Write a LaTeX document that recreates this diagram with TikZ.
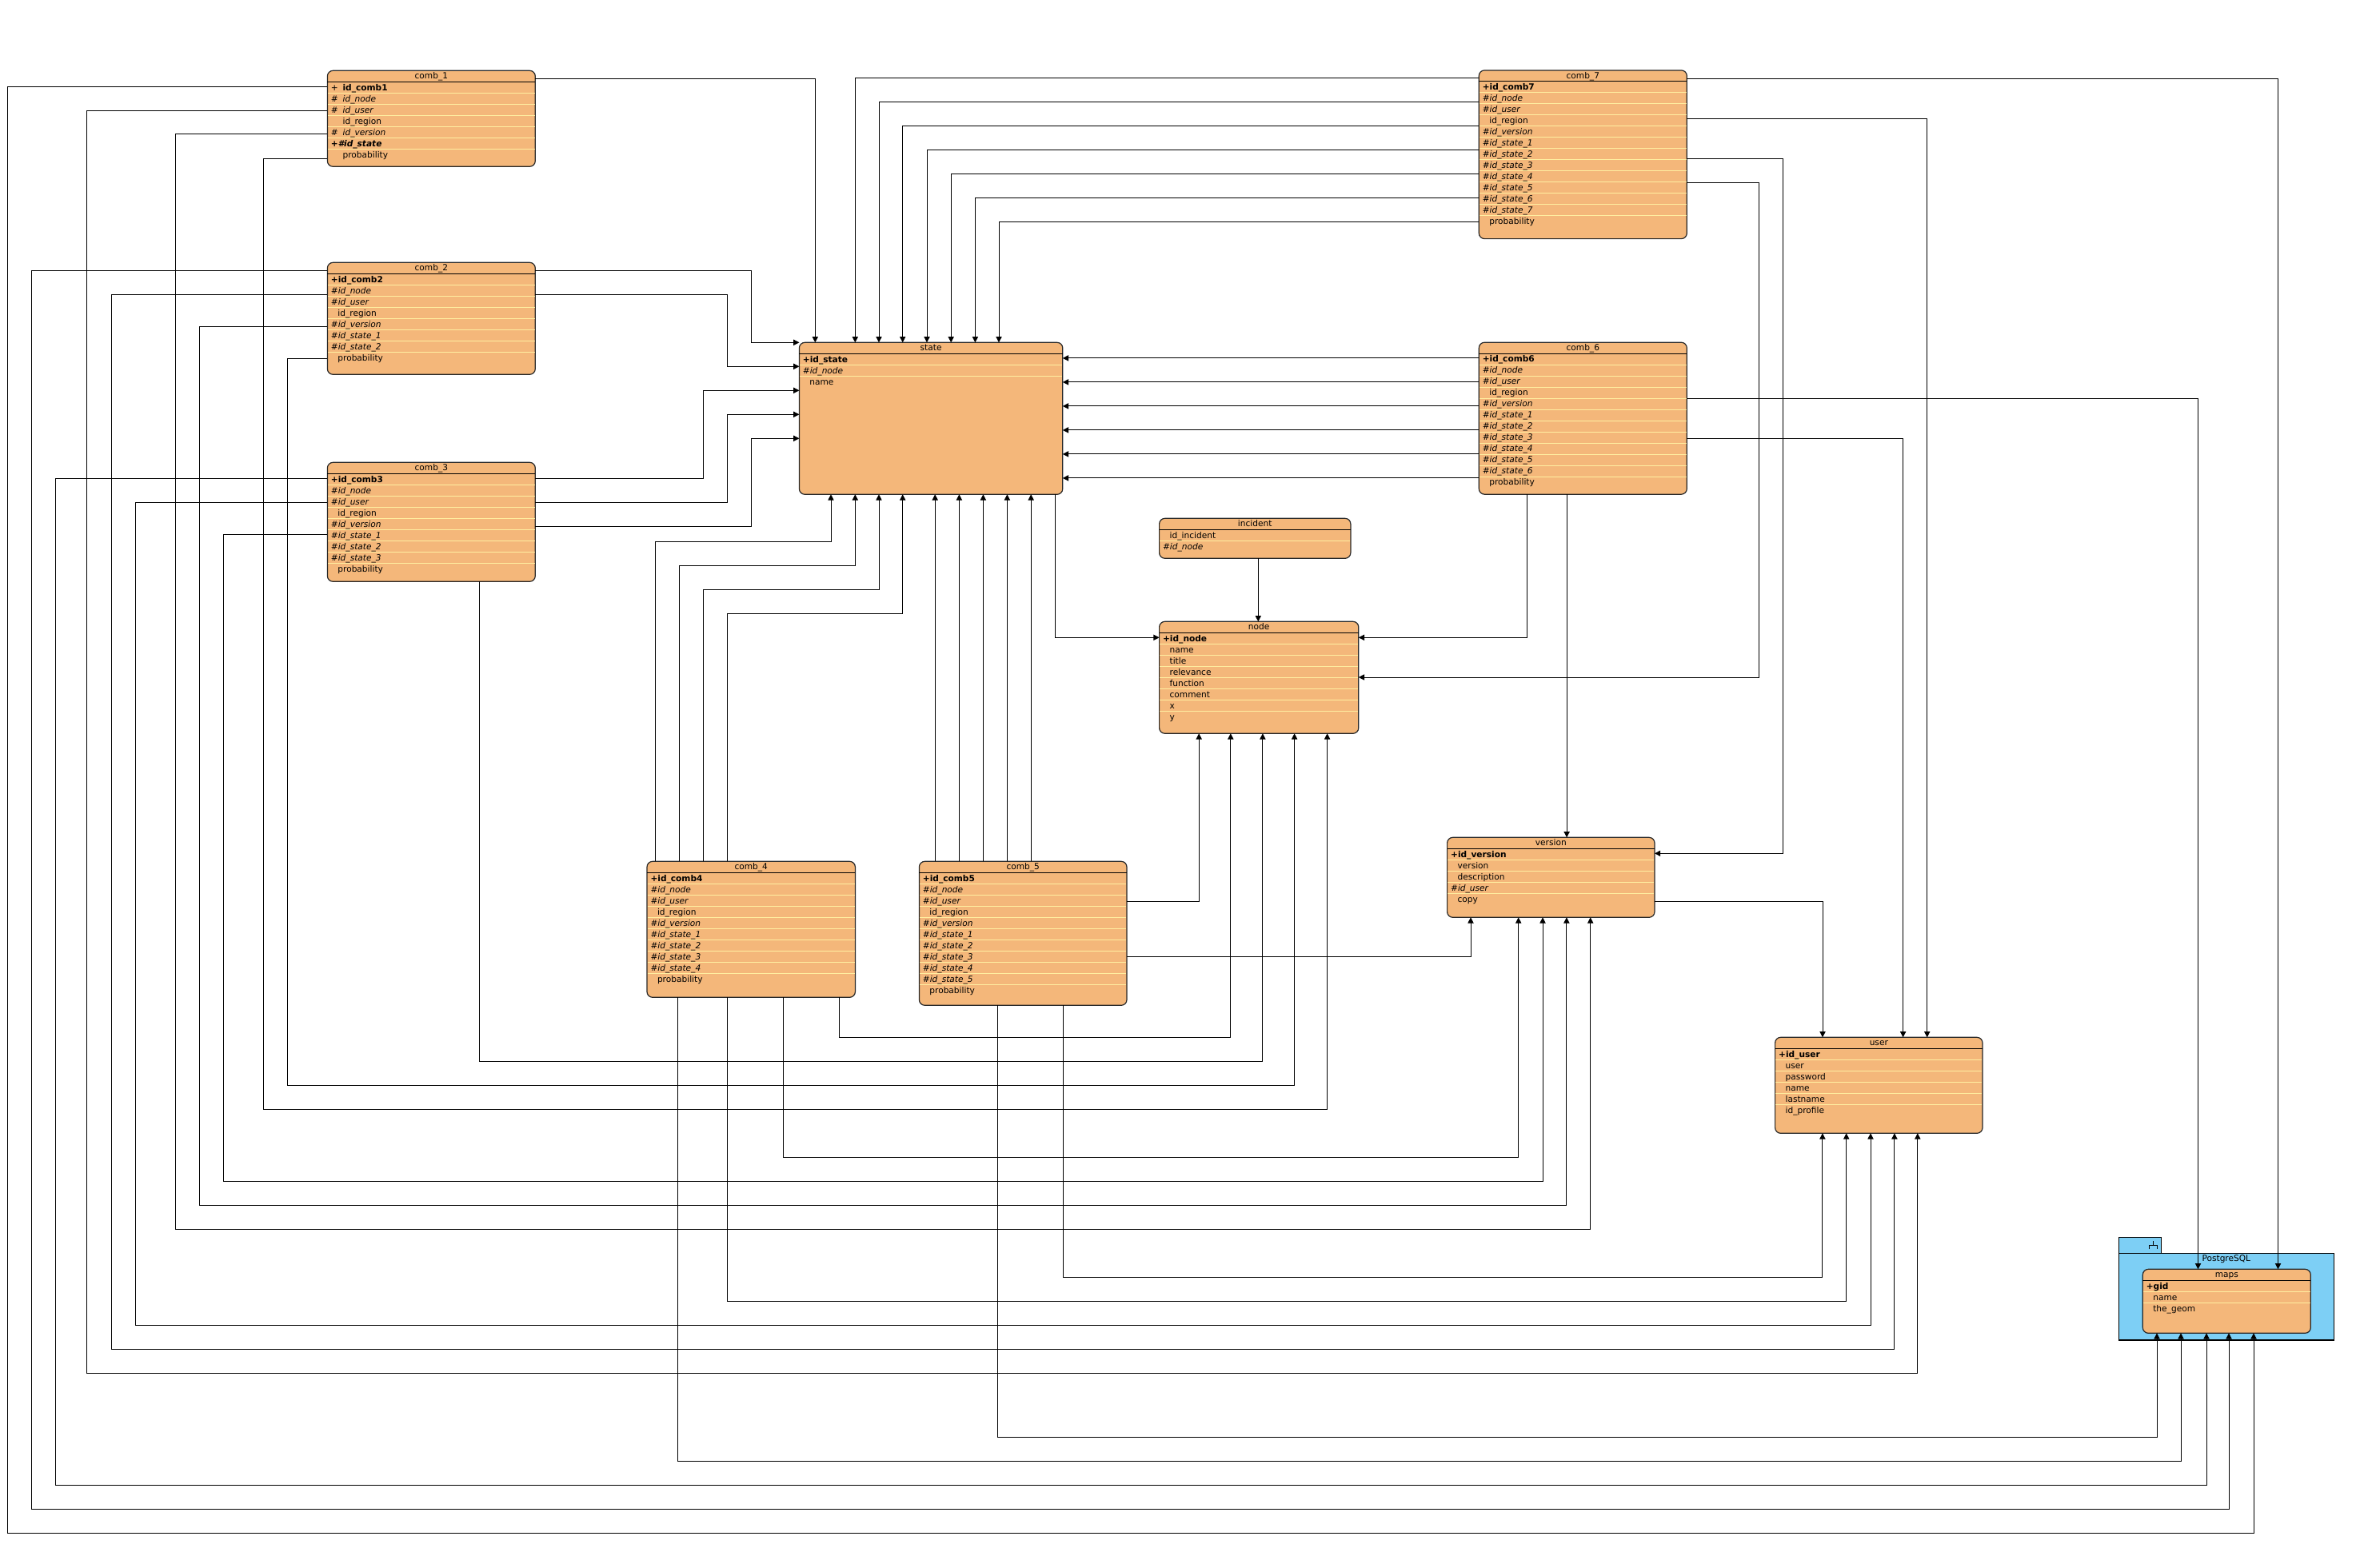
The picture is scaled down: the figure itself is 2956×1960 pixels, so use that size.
\documentclass[tikz,border=0pt]{standalone}
\usepackage{fontspec}
\setmainfont{DejaVu Sans}[BoldFont={DejaVu Sans Bold},ItalicFont={DejaVu Sans Oblique},BoldItalicFont={DejaVu Sans Bold Oblique}]
\usetikzlibrary{arrows.meta}
\definecolor{boxfill}{RGB}{244,183,122}
\definecolor{rowsep}{RGB}{255,238,160}
\definecolor{pkgfill}{RGB}{125,207,245}
\definecolor{frame}{RGB}{40,40,40}
\newcommand\erpk[1]{\textbf{+#1}}
\newcommand\erfk[1]{\textit{\#{}#1}}
\tikzset{
 ebox/.style={rectangle, draw=frame, fill=boxfill, line width=0.6pt, rounded corners=3.5pt, inner sep=0pt, outer sep=0pt, anchor=north west},
 pkg/.style={rectangle, draw=black, fill=pkgfill, line width=0.55pt, inner sep=0pt, outer sep=0pt, anchor=north west},
 hdr/.style={draw=black, line width=0.55pt},
 rsep/.style={draw=rowsep, line width=0.5pt},
 rowtxt/.style={inner sep=0pt, outer sep=0pt, anchor=base west, font=\fontsize{5.3pt}{6pt}\selectfont},
 ttltxt/.style={inner sep=0pt, outer sep=0pt, anchor=base, font=\fontsize{5.3pt}{6pt}\selectfont},
 conn/.style={draw=black, line width=0.5pt, -{Triangle[length=3.6pt,width=3.6pt]}},
 wire/.style={draw=black, line width=0.5pt},
}
\newcommand\erbox[7]{%
 \pgfmathsetmacro\erbw{(#4-#2)*0.5}%
 \pgfmathsetmacro\erbh{(#5-#3)*0.5}%
 \node[ebox, minimum width=\erbw pt, minimum height=\erbh pt] (#1) at (#2,#3) {};
 \foreach \k/\txt [count=\i] in {#7} {%
   \pgfmathsetmacro\ery{#3+14*\i}%
   \pgfmathsetmacro\erx{#2+4.5+8.5*\k}%
   \ifnum\i>1 \draw[rsep] (#2+0.8,\ery) -- (#4-0.8,\ery);\fi
   \node[rowtxt] (#1-r\i) at (\erx,\ery+10.7) {\txt};
 }
 \draw[hdr] (#2,#3+14) -- (#4,#3+14);
 \node[ttltxt] (#1-t) at ({(#2+#4)/2},#3+10.2) {#6};
}
\begin{document}
\begin{tikzpicture}[x=0.5pt,y=-0.5pt]
\useasboundingbox[fill=white] (0,0) rectangle (2956,1960);

% package
\node[pkg, minimum width=26.5pt, minimum height=10pt] (pgtab) at (2649.3,1547.3) {};
\node[pkg, minimum width=134.5pt, minimum height=54.35pt] (pg) at (2649.3,1567.3) {};
\draw[wire] (2687.3,1562.3) -- (2687.3,1557.3) -- (2697.7,1557.3) -- (2697.7,1562.3);
\draw[wire] (2692.5,1557.3) -- (2692.5,1552);
\node[ttltxt] (pglabel) at (2783.8,1577.8) {PostgreSQL};

% tables
\erbox{c1}{409.4}{88.3}{669.3}{208.3}{comb\_1}{0/{\makebox[7.35pt][l]{+}\textbf{id\_comb1}},0/{\makebox[7.35pt][l]{\itshape\#}\textit{id\_node}},0/{\makebox[7.35pt][l]{\itshape\#}\textit{id\_user}},0/{\hspace*{7.35pt}id\_region},0/{\makebox[7.35pt][l]{\itshape\#}\textit{id\_version}},0/{\textbf{\textit{+\#id\_state}}},0/{\hspace*{7.35pt}probability}}
\erbox{c2}{409.4}{328.3}{669.3}{468.3}{comb\_2}{0/\erpk{id\_comb2},0/\erfk{id\_node},0/\erfk{id\_user},1/id\_region,0/\erfk{id\_version},0/\erfk{id\_state\_1},0/\erfk{id\_state\_2},1/probability}
\erbox{c3}{409.4}{578.3}{669.3}{727.3}{comb\_3}{0/\erpk{id\_comb3},0/\erfk{id\_node},0/\erfk{id\_user},1/id\_region,0/\erfk{id\_version},0/\erfk{id\_state\_1},0/\erfk{id\_state\_2},0/\erfk{id\_state\_3},1/probability}
\erbox{state}{999.4}{428.3}{1328.8}{618.3}{state}{0/\erpk{id\_state},0/\erfk{id\_node},1/name}
\erbox{incident}{1449.6}{648.3}{1688.9}{698.3}{incident}{1/id\_incident,0/\erfk{id\_node}}
\erbox{nodetbl}{1449.6}{777.3}{1698.8}{917.3}{node}{0/\erpk{id\_node},1/name,1/title,1/relevance,1/function,1/comment,1/x,1/y}
\erbox{c7}{1849.3}{87.9}{2109.3}{298.6}{comb\_7}{0/\erpk{id\_comb7},0/\erfk{id\_node},0/\erfk{id\_user},1/id\_region,0/\erfk{id\_version},0/\erfk{id\_state\_1},0/\erfk{id\_state\_2},0/\erfk{id\_state\_3},0/\erfk{id\_state\_4},0/\erfk{id\_state\_5},0/\erfk{id\_state\_6},0/\erfk{id\_state\_7},1/probability}
\erbox{c6}{1849.3}{428.2}{2109.3}{618.2}{comb\_6}{0/\erpk{id\_comb6},0/\erfk{id\_node},0/\erfk{id\_user},1/id\_region,0/\erfk{id\_version},0/\erfk{id\_state\_1},0/\erfk{id\_state\_2},0/\erfk{id\_state\_3},0/\erfk{id\_state\_4},0/\erfk{id\_state\_5},0/\erfk{id\_state\_6},1/probability}
\erbox{c4}{809}{1077.3}{1069.4}{1247.3}{comb\_4}{0/\erpk{id\_comb4},0/\erfk{id\_node},0/\erfk{id\_user},1/id\_region,0/\erfk{id\_version},0/\erfk{id\_state\_1},0/\erfk{id\_state\_2},0/\erfk{id\_state\_3},0/\erfk{id\_state\_4},1/probability}
\erbox{c5}{1149.4}{1077.3}{1409}{1257.3}{comb\_5}{0/\erpk{id\_comb5},0/\erfk{id\_node},0/\erfk{id\_user},1/id\_region,0/\erfk{id\_version},0/\erfk{id\_state\_1},0/\erfk{id\_state\_2},0/\erfk{id\_state\_3},0/\erfk{id\_state\_4},0/\erfk{id\_state\_5},1/probability}
\erbox{version}{1809.6}{1047.3}{2069}{1147.3}{version}{0/\erpk{id\_version},1/version,1/description,0/\erfk{id\_user},1/copy}
\erbox{user}{2219.6}{1297.3}{2479}{1417.3}{user}{0/\erpk{id\_user},1/user,1/password,1/name,1/lastname,1/id\_profile}
\erbox{maps}{2679.3}{1587.3}{2889.3}{1667.3}{maps}{0/\erpk{gid},1/name,1/the\_geom}

% ---- connectors to state (top)
\draw[conn] (c1.east |- 0,98.3) -| (state.north -| 1019.3,0);
\draw[conn] (c7.west |- 0,97.9) -| (state.north -| 1069.3,0);
\draw[conn] (c7.west |- 0,127.9) -| (state.north -| 1099,0);
\draw[conn] (c7.west |- 0,157.9) -| (state.north -| 1128.7,0);
\draw[conn] (c7.west |- 0,187.9) -| (state.north -| 1159,0);
\draw[conn] (c7.west |- 0,217.9) -| (state.north -| 1189.2,0);
\draw[conn] (c7.west |- 0,247.9) -| (state.north -| 1219.4,0);
\draw[conn] (c7.west |- 0,277.9) -| (state.north -| 1249,0);
% state left
\draw[conn] (c2.east |- 0,338.3) -| (939.2,428.3) -- (state.west |- 0,428.3);
\draw[conn] (c2.east |- 0,368.3) -| (909.4,458.3) -- (state.west |- 0,458.3);
\draw[conn] (c3.east |- 0,598.3) -| (879.5,488.3) -- (state.west |- 0,488.3);
\draw[conn] (c3.east |- 0,628.3) -| (909.4,518.3) -- (state.west |- 0,518.3);
\draw[conn] (c3.east |- 0,658.3) -| (939.2,548.3) -- (state.west |- 0,548.3);
% state right
\foreach \yy in {447.9,477.9,507.9,537.9,567.9,597.9}
  \draw[conn] (c6.west |- 0,\yy) -- (state.east |- 0,\yy);
% state bottom
\draw[conn] (c4.north -| 819.2,0) |- (1039,677.7) -- (state.south -| 1039,0);
\draw[conn] (c4.north -| 849.4,0) |- (1069.3,707.7) -- (state.south -| 1069.3,0);
\draw[conn] (c4.north -| 879.6,0) |- (1099,737.3) -- (state.south -| 1099,0);
\draw[conn] (c4.north -| 909.4,0) |- (1128.7,767.3) -- (state.south -| 1128.7,0);
\foreach \xx in {1169.2,1199.4,1229.4,1259.4,1289.2}
  \draw[conn] (c5.north -| \xx,0) -- (state.south -| \xx,0);

% ---- node
\draw[conn] (state.south -| 1319,0) |- (nodetbl.west |- 0,797.3);
\draw[conn] (incident.south -| 1573.3,0) -- (nodetbl.north -| 1573.3,0);
\draw[conn] (c6.south -| 1909.3,0) |- (nodetbl.east |- 0,797.3);
\draw[conn] (c7.east |- 0,228.3) -| (2199,847) -- (nodetbl.east |- 0,847);
\draw[conn] (c5.east |- 0,1127.3) -| (nodetbl.south -| 1499.2,0);
\draw[conn] (c4.south -| 1049.4,0) |- (1538.8,1297.3) -- (nodetbl.south -| 1538.8,0);
\draw[conn] (c3.south -| 599.5,0) |- (1578.9,1327.3) -- (nodetbl.south -| 1578.9,0);
\draw[conn] (c2.west |- 0,448.3) -| (359.3,1357.3) -| (nodetbl.south -| 1618.6,0);
\draw[conn] (c1.west |- 0,198) -| (329.3,1387.3) -| (nodetbl.south -| 1659.6,0);

% ---- version
\draw[conn] (c6.south -| 1959.1,0) -- (version.north -| 1959.1,0);
\draw[conn] (c7.east |- 0,198.3) -| (2229.5,1067.3) -- (version.east |- 0,1067.3);
\draw[conn] (c5.east |- 0,1196.7) -| (version.south -| 1839,0);
\draw[conn] (c4.south -| 979.6,0) |- (1898.7,1447.3) -- (version.south -| 1898.7,0);
\draw[conn] (c3.west |- 0,668.3) -| (279.3,1477.3) -| (version.south -| 1929,0);
\draw[conn] (c2.west |- 0,408.3) -| (249.3,1507.3) -| (version.south -| 1958.9,0);
\draw[conn] (c1.west |- 0,167.3) -| (219.3,1537.3) -| (version.south -| 1988.7,0);

% ---- user
\draw[conn] (version.east |- 0,1127.3) -| (user.north -| 2279,0);
\draw[conn] (c6.east |- 0,548.3) -| (user.north -| 2379.6,0);
\draw[conn] (c7.east |- 0,148.3) -| (user.north -| 2409.7,0);
\draw[conn] (c5.south -| 1329.4,0) |- (2278.9,1597.3) -- (user.south -| 2278.9,0);
\draw[conn] (c4.south -| 909.4,0) |- (2308.7,1627.3) -- (user.south -| 2308.7,0);
\draw[conn] (c3.west |- 0,628.3) -| (169.7,1657.3) -| (user.south -| 2339,0);
\draw[conn] (c2.west |- 0,368.3) -| (139.3,1687.3) -| (user.south -| 2368.9,0);
\draw[conn] (c1.west |- 0,138.3) -| (108.7,1717.3) -| (user.south -| 2397.8,0);

% ---- maps
\draw[conn] (c7.east |- 0,98.3) -| (maps.north -| 2848.5,0);
\draw[conn] (c6.east |- 0,498.3) -| (maps.north -| 2748.5,0);
\draw[conn] (c5.south -| 1247.8,0) |- (2697,1797.3) -- (maps.south -| 2697,0);
\draw[conn] (c4.south -| 847.8,0) |- (2727,1827.3) -- (maps.south -| 2727,0);
\draw[conn] (c3.west |- 0,598.3) -| (69.3,1857.3) -| (maps.south -| 2759,0);
\draw[conn] (c2.west |- 0,338.3) -| (39.7,1887.3) -| (maps.south -| 2787,0);
\draw[conn] (c1.west |- 0,108.3) -| (9.7,1917.3) -| (maps.south -| 2818,0);
\end{tikzpicture}
\end{document}
